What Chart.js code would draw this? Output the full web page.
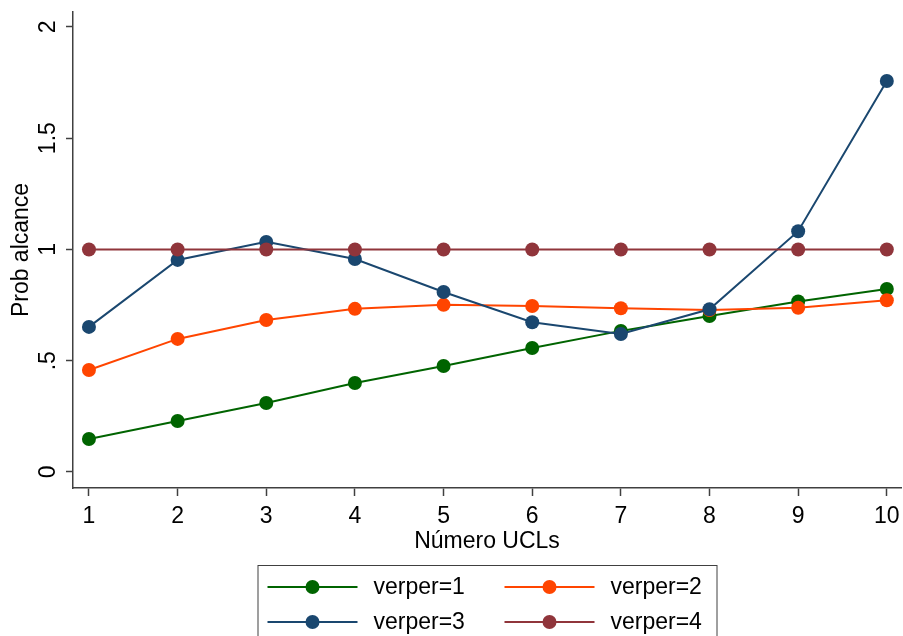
<!DOCTYPE html>
<html lang="es">
<head>
    <meta charset="UTF-8">
    <script src="https://cdn.jsdelivr.net/npm/chart.js@4.4.1/dist/chart.umd.min.js"></script>
    <title>Prob alcance por número de UCLs</title>
    <style>
        html, body {
            margin: 0;
            padding: 0;
            background: #fff;
        }

        #chart-container {
            position: relative;
            width: 903px;
            height: 636px;
        }
    </style>
</head>
<body>
    <div id="chart-container">
        <canvas id="probChart"></canvas>
    </div>
    <script>
        const ucls = [1, 2, 3, 4, 5, 6, 7, 8, 9, 10];
        const verper1 = [0.148, 0.229, 0.310, 0.400, 0.476, 0.557, 0.634, 0.701, 0.766, 0.822];
        const verper2 = [0.458, 0.598, 0.683, 0.733, 0.751, 0.746, 0.736, 0.728, 0.738, 0.772];
        const verper3 = [0.652, 0.953, 1.034, 0.957, 0.809, 0.673, 0.620, 0.731, 1.082, 1.757];
        const verper4 = [1, 1, 1, 1, 1, 1, 1, 1, 1, 1];
        const xTicks = [1, 2, 3, 4, 5, 6, 7, 8, 9, 10];
        const yTicks = [0, 0.5, 1, 1.5, 2];
        const yTickLabels = ['0', '.5', '1', '1.5', '2'];
        const seriesLabels = ['verper=1', 'verper=2', 'verper=3', 'verper=4'];
        const seriesColors = ['#006400', '#ff4500', '#1a476f', '#90353b'];

        const FONT = 'Liberation Sans, Arial, sans-serif';

        function makeSeries(values, i) {
            return {
                label: seriesLabels[i],
                data: values.map((v, k) => ({ x: ucls[k], y: v })),
                borderColor: seriesColors[i],
                backgroundColor: seriesColors[i],
                borderWidth: 2,
                pointRadius: 7,
                pointBorderWidth: 0,
                pointHoverRadius: 7,
                tension: 0,
                clip: false,
                order: 4 - i // later series drawn on top, like Stata
            };
        }

        // legend in a box, two columns, under the x title
        const boxLegend = {
            id: 'boxLegend',
            afterDraw(chart) {
                const ctx = chart.ctx;
                const area = chart.chartArea;
                const cx = (area.left + area.right) / 2;
                const left = cx - 229.5;
                const top = 565;
                ctx.save();
                ctx.strokeStyle = '#404040';
                ctx.lineWidth = 1;
                ctx.strokeRect(left + 0.5, top + 0.5, 459, 80);
                ctx.font = '23px ' + FONT;
                ctx.textBaseline = 'middle';
                ctx.textAlign = 'left';
                chart.data.datasets.forEach((ds, i) => {
                    const col = i % 2, row = Math.floor(i / 2);
                    const x0 = left + (col === 0 ? 10 : 247);
                    const y = top + (row === 0 ? 22 : 57);
                    ctx.strokeStyle = ds.borderColor;
                    ctx.lineWidth = 2;
                    ctx.beginPath();
                    ctx.moveTo(x0, y);
                    ctx.lineTo(x0 + 90, y);
                    ctx.stroke();
                    ctx.fillStyle = ds.borderColor;
                    ctx.beginPath();
                    ctx.arc(x0 + 45, y, 7, 0, Math.PI * 2);
                    ctx.fill();
                    ctx.fillStyle = '#000';
                    ctx.fillText(ds.label, x0 + 106, y + 1);
                });
                ctx.restore();
            }
        };

        const ctx = document.getElementById('probChart').getContext('2d');
        new Chart(ctx, {
            type: 'line',
            data: {
                datasets: [verper1, verper2, verper3, verper4].map(makeSeries)
            },
            options: {
                responsive: true,
                maintainAspectRatio: false,
                animation: false,
                events: [],
                layout: {
                    autoPadding: false,
                    padding: { top: 12, right: 2, bottom: 81, left: 0 }
                },
                plugins: {
                    legend: { display: false },
                    tooltip: { enabled: false }
                },
                scales: {
                    x: {
                        type: 'linear',
                        min: 0.82,
                        max: 10.16,
                        afterBuildTicks: scale => {
                            scale.ticks = xTicks.map(v => ({ value: v }));
                        },
                        afterFit: scale => {
                            scale.height = 67;
                            scale.paddingLeft = 0;
                            scale.paddingRight = 0;
                        },
                        ticks: {
                            color: '#000',
                            font: { family: FONT, size: 23 },
                            padding: 7,
                            maxRotation: 0,
                            autoSkip: false
                        },
                        grid: {
                            display: true,
                            drawOnChartArea: false,
                            drawTicks: true,
                            tickLength: 8,
                            tickWidth: 1.5,
                            tickColor: '#404040'
                        },
                        border: { display: true, color: '#404040', width: 1.5 },
                        title: {
                            display: true,
                            text: 'Número UCLs',
                            color: '#000',
                            font: { family: FONT, size: 23 },
                            padding: 0
                        }
                    },
                    y: {
                        type: 'linear',
                        min: -0.072,
                        max: 2.067,
                        afterBuildTicks: scale => {
                            scale.ticks = yTicks.map(v => ({ value: v }));
                        },
                        afterFit: scale => {
                            scale.width = 73;
                            scale.paddingTop = 0;
                            scale.paddingBottom = 0;
                        },
                        ticks: {
                            color: '#000',
                            font: { family: FONT, size: 23 },
                            minRotation: 90,
                            maxRotation: 90,
                            crossAlign: 'center',
                            padding: 1,
                            callback: (value) => yTickLabels[yTicks.indexOf(value)]
                        },
                        grid: {
                            display: true,
                            drawOnChartArea: false,
                            drawTicks: true,
                            tickLength: 7,
                            tickWidth: 1.5,
                            tickColor: '#404040'
                        },
                        border: { display: true, color: '#404040', width: 1.5 },
                        title: {
                            display: true,
                            text: 'Prob alcance',
                            color: '#000',
                            font: { family: FONT, size: 23 },
                            padding: { top: 8, bottom: 0 }
                        }
                    }
                }
            },
            plugins: [boxLegend]
        });
    </script>
</body>
</html>
